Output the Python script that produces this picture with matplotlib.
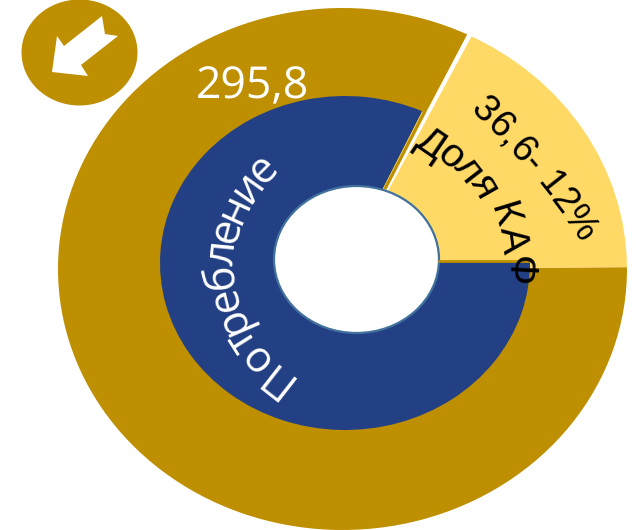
import numpy as np
import matplotlib
matplotlib.use('Agg')
import matplotlib.pyplot as plt
from matplotlib.patches import Ellipse, Polygon
from matplotlib.font_manager import FontProperties, findfont, get_font

plt.rcParams['text.hinting'] = 'no_hinting'

# ring shares as drawn in the picture (not to scale with the values)
outer_shares = [82.36, 17.64]
inner_shares = [82.05, 17.95]
outer_colors = ['#BE8F00', '#FFD966']
inner_colors = ['#234084', '#FFD966']

value_label = '295,8'
share_label = '36,6- 12%'
outer_name = 'Доля КАФ'
inner_name = 'Потребление'

W, H = 636, 530
fig = plt.figure(figsize=(W/100, H/100), dpi=100)


def ring_axes(x0, x1, y0, y1):
    ax = fig.add_axes([x0/W, 1-y1/H, (x1-x0)/W, (y1-y0)/H])
    return ax


# outer ring
ax1 = ring_axes(58, 627, 8, 530)
ax1.pie(outer_shares, colors=outer_colors, startangle=0.4, counterclock=False, radius=1)
ax1.set_aspect('auto')
ax1.set_xlim(-1, 1)
ax1.set_ylim(-1, 1)

# inner ring
ax2 = ring_axes(160, 530, 96, 430)
ax2.pie(inner_shares, colors=inner_colors, startangle=0.7, counterclock=False, radius=1)
ax2.set_aspect('auto')
ax2.set_xlim(-1, 1)
ax2.set_ylim(-1, 1)
ax2.patch.set_alpha(0)

# everything else in pixel coordinates
ax = fig.add_axes([0, 0, 1, 1])
ax.set_xlim(0, W)
ax.set_ylim(H, 0)
ax.axis('off')
ax.patch.set_alpha(0)

ax.plot([385, 425], [189, 111], color='#BE8F00', lw=2.2, solid_capstyle='butt')
ax.plot([438, 533], [261, 261], color='#BE8F00', lw=2, solid_capstyle='butt')
ax.add_patch(Polygon([(469, 31), (474.5, 31), (388, 191), (385.5, 191)], closed=True, fc='white', ec='none'))

ax.add_patch(Ellipse((356.5, 259.5), 165, 147, fc='white', ec='#41719C', lw=1.6))

# badge with arrow
ax.add_patch(Ellipse((79.5, 52.5), 116, 106, fc='#BE8F00', ec='none'))
ax.add_patch(Polygon([(102, 16), (105, 34), (118, 36), (81, 65), (88, 76), (52, 72), (57, 36), (64, 46)],
                     closed=True, fc='white', ec='none'))

ax.text(252, 87, value_label, color='white', fontsize=32, family='Open Sans', ha='center', va='center')


# curved labels: one letter at a time along an arc, clockwise, tops outward
def arc_text(s, cx, cy, r0, r1, phi0, phi1, family, size, color):
    font = get_font(findfont(FontProperties(family=family)))
    font.set_size(size, 100)
    widths = []
    for c in s:
        g = font.load_char(ord(c))
        widths.append(g.linearHoriAdvance/65536)
    left = np.cumsum([0] + widths[:-1])
    mid = left + np.array(widths)/2
    f = (mid - mid[0])/(mid[-1] - mid[0])
    for c, k in zip(s, f):
        if c == ' ':
            continue
        phi = phi0 + (phi1 - phi0)*k
        r = r0 + (r1 - r0)*k
        x = cx + r*np.cos(np.radians(phi))
        y = cy - r*np.sin(np.radians(phi))
        ax.text(x, y, c, color=color, fontsize=size, family=family, ha='center', va='baseline',
                rotation=phi - 90, rotation_mode='anchor')


arc_text(inner_name, 360, 266, 128, 126, 232, 135, 'Open Sans', 31, 'white')
arc_text(outer_name, 350, 262, 132, 158, 55.6, -3.0, 'Liberation Sans', 29, 'black')
arc_text(share_label, -115, 710, 838, 838, 45, 35, 'Liberation Sans', 27, 'black')

fig.savefig('out.png', dpi=100)
